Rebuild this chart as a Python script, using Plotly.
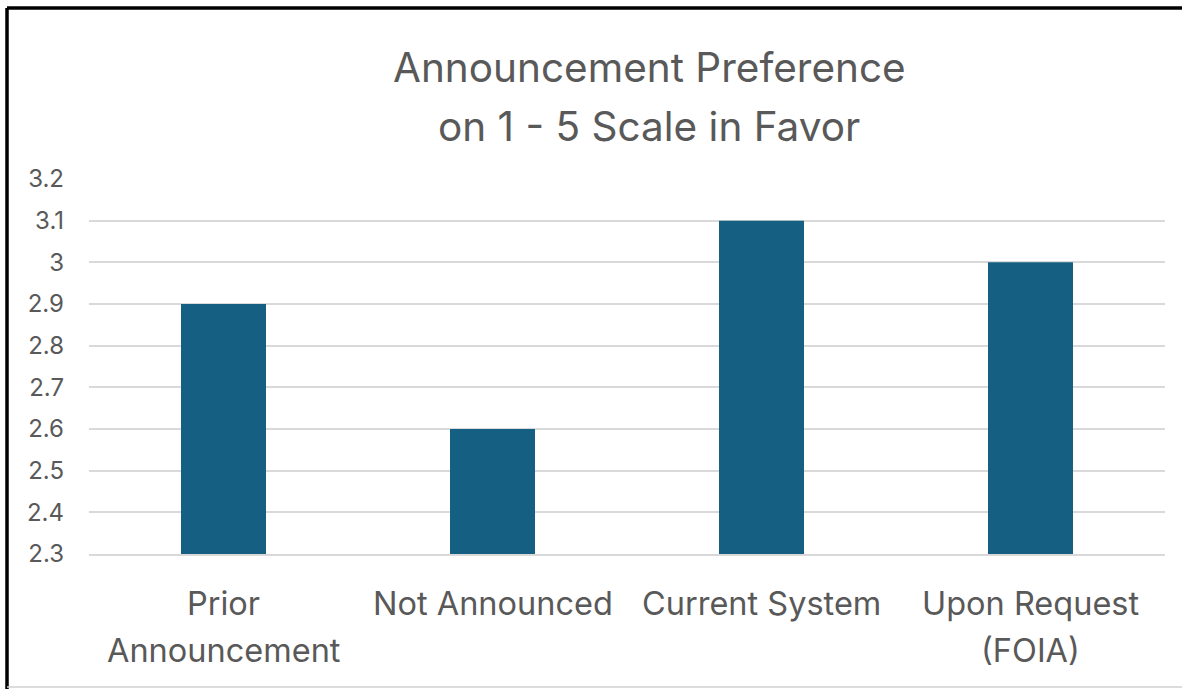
import plotly.graph_objects as go

# Survey results: mean preference on a 1-5 scale
categories = ["Prior Announcement", "Not Announced", "Current System", "Upon Request (FOIA)"]
label_lines = [
    ["Prior", "Announcement"],
    ["Not Announced"],
    ["Current System"],
    ["Upon Request", "(FOIA)"],
]
scores = [2.9, 2.6, 3.1, 3.0]
y_ticks = [2.3, 2.4, 2.5, 2.6, 2.7, 2.8, 2.9, 3.0, 3.1, 3.2]
y_tick_text = ["2.3", "2.4", "2.5", "2.6", "2.7", "2.8", "2.9", "3", "3.1", "3.2"]
title_lines = ["Announcement Preference", "on 1 - 5 Scale in Favor"]

W, H = 1182, 689
L, R, T, B = 89, 17, 179, 135
FONT = "Inter"
GREY = "#595959"

fig = go.Figure(
    go.Bar(
        x=categories,
        y=scores,
        marker=dict(color="#156082", line=dict(width=0)),
        width=0.316,
    )
)

fig.update_layout(
    width=W,
    height=H,
    margin=dict(l=L, r=R, t=T, b=B, pad=0),
    paper_bgcolor="white",
    plot_bgcolor="white",
    showlegend=False,
    font=dict(family=FONT, color=GREY),
)

fig.update_yaxes(
    range=[2.3, 3.2],
    tickvals=y_ticks,
    ticktext=y_tick_text,
    tickfont=dict(size=24, color=GREY, family=FONT),
    showgrid=True,
    gridcolor="#d9d9d9",
    gridwidth=1.5,
    zeroline=False,
    showline=False,
    ticks="",
    ticklabelstandoff=24,
)

fig.update_xaxes(
    showticklabels=False,
    showline=True,
    linecolor="#d9d9d9",
    linewidth=1.5,
    ticks="",
)

pw, ph = W - L - R, H - T - B

def px_x(p):
    return (p - L) / pw

def px_y(p):
    return (H - B - p) / ph

# Category labels, one annotation per text line, placed at each category
for cat, lines in zip(categories, label_lines):
    for i, line in enumerate(lines):
        fig.add_annotation(
            text=line, x=cat, xref="x", yref="paper",
            y=px_y(603 + 47 * i), xanchor="center", yanchor="middle",
            showarrow=False,
            font=dict(size=32.5, color=GREY, family=FONT),
        )

# Two-line chart title
for i, line in enumerate(title_lines):
    fig.add_annotation(
        text=line, xref="paper", yref="paper",
        x=px_x(649), y=px_y(67 + 59 * i),
        xanchor="center", yanchor="middle",
        showarrow=False,
        font=dict(size=40.5, color=GREY, family=FONT),
    )

# Frame around the chart area
frame = [
    (7, 8, W, 8, "black", 3.5),
    (7, 8, 7, H, "black", 3.5),
    (7, 687, W, 687, "#d0d0d0", 1.5),
]
for x0, y0, x1, y1, c, w in frame:
    fig.add_shape(
        type="line", xref="paper", yref="paper",
        x0=px_x(x0), y0=px_y(y0), x1=px_x(x1), y1=px_y(y1),
        line=dict(color=c, width=w),
    )

fig.write_html("out.html")
